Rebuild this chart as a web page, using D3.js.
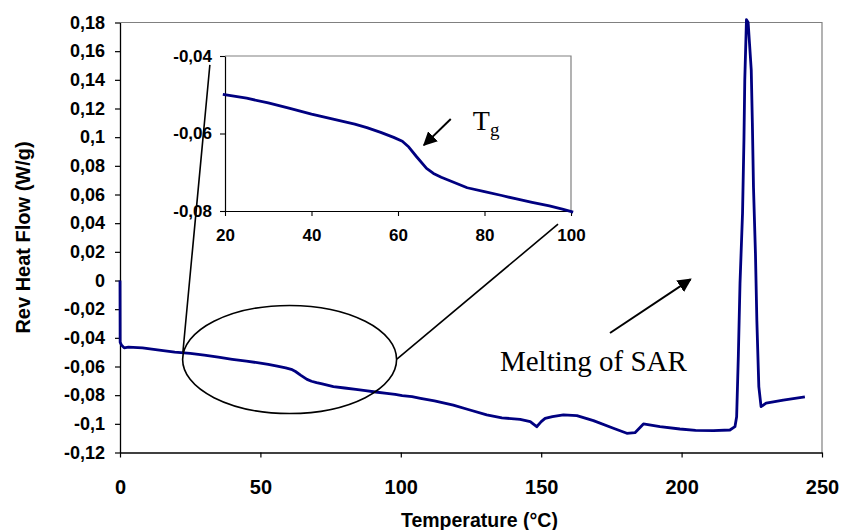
<!DOCTYPE html>
<html><head><meta charset="utf-8">
<script src="https://cdn.jsdelivr.net/npm/d3@7"></script>
<style>body{margin:0;background:#fff}svg{display:block}</style>
</head><body>
<svg id="c" width="841" height="530"></svg>
<script>
// ---- data ----
const temps = [0,0.05,0.5,1.5,3,8,14,19.5,25,30,35,40,45,50,52.8,56,59,61,62.5,64.3,66.6,68.2,70,72,76,80,84,87.4,91,95,98,100.5,104,107,112,118.7,124,130.6,136,142.5,146.1,148.4,150,151.4,154,157.9,162.7,168.6,175.7,180.5,183.4,186.4,188,192.3,199.4,205,211.3,217.2,219,219.6,220.2,220.8,221.7,222.2,222.5,223.1,223.7,224.2,224.8,225.2,225.6,226.3,226.8,227.5,228.3,230.1,236.2,243.9];
const heatFlow = [0,-0.043,-0.045,-0.047,-0.0465,-0.047,-0.0485,-0.0499,-0.0509,-0.0521,-0.0535,-0.055,-0.0563,-0.0576,-0.0585,-0.0597,-0.061,-0.062,-0.0635,-0.066,-0.069,-0.0703,-0.0713,-0.0722,-0.074,-0.075,-0.076,-0.0769,-0.0778,-0.0787,-0.0795,-0.0803,-0.081,-0.0822,-0.084,-0.0869,-0.09,-0.0938,-0.0958,-0.0969,-0.0985,-0.102,-0.0985,-0.0962,-0.095,-0.0938,-0.0943,-0.0978,-0.1031,-0.1066,-0.1062,-0.1001,-0.1005,-0.102,-0.1036,-0.1045,-0.1048,-0.1043,-0.102,-0.095,-0.053,-0.002,0.047,0.098,0.14,0.182,0.18,0.165,0.147,0.11,0.065,0.019,-0.028,-0.074,-0.088,-0.0856,-0.0834,-0.0812];
const xTicks = [0,50,100,150,200,250];
const yTicks = [-0.12,-0.1,-0.08,-0.06,-0.04,-0.02,0,0.02,0.04,0.06,0.08,0.1,0.12,0.14,0.16,0.18];
const insetXTicks = [20,40,60,80,100];
const insetYTicks = [-0.08,-0.06,-0.04];
const xTitle = "Temperature (°C)";
const yTitle = "Rev Heat Flow (W/g)";
const meltLabel = "Melting of SAR";

const fmt = v => String(Math.round(v*100)/100).replace(".", ",");
const svg = d3.select("#c");
const navy = "#000080";
const sans = "Arial, 'Liberation Sans', sans-serif";

// ---- main chart ----
const x = d3.scaleLinear().domain([0,250]).range([120,822]);
const y = d3.scaleLinear().domain([-0.12,0.18]).range([452.5,22.5]);

svg.append("path").attr("d",`M${x(0)},${y(0.18)}H${x(250)}V${y(-0.12)}`)
  .attr("fill","none").attr("stroke","#808080").attr("stroke-width",1.2);

const gx = svg.append("g").attr("transform",`translate(0,${y(-0.12)})`)
  .call(d3.axisBottom(x).tickValues(xTicks).tickFormat(d=>d).tickSize(5).tickSizeOuter(0).tickPadding(22));
const gy = svg.append("g").attr("transform",`translate(${x(0)},0)`)
  .call(d3.axisLeft(y).tickValues(yTicks).tickFormat(fmt).tickSize(5).tickSizeOuter(0).tickPadding(10));
[gx,gy].forEach(g=>{
  g.select(".domain").attr("stroke","#000").attr("stroke-width",1.3);
  g.selectAll(".tick line").attr("stroke","#000").attr("stroke-width",1.2);
  g.selectAll("text").attr("fill","#000").attr("font-family",sans).attr("font-weight","bold");
});
gx.selectAll("text").attr("font-size",20);
gy.selectAll("text").attr("font-size",18);

svg.append("text").attr("x",x(128)).attr("y",527).attr("text-anchor","middle")
  .attr("font-family",sans).attr("font-weight","bold").attr("font-size",19.5)
  .text(xTitle);
svg.append("text").attr("transform",`translate(30,${y(0.03)}) rotate(-90)`).attr("text-anchor","middle")
  .attr("font-family",sans).attr("font-weight","bold").attr("font-size",20)
  .text(yTitle);

const pts = temps.map((t,i)=>[t,heatFlow[i]]);
svg.append("path").datum(pts)
  .attr("d", d3.line().x(d=>x(d[0])).y(d=>y(d[1])))
  .attr("fill","none").attr("stroke",navy).attr("stroke-width",2.8).attr("stroke-linejoin","round");

// ---- inset ----
const ix = d3.scaleLinear().domain([20,100]).range([225,571]);
const iy = d3.scaleLinear().domain([-0.08,-0.04]).range([211,56]);
svg.append("path").attr("d",`M${ix(20)},${iy(-0.04)}H${ix(100)}V${iy(-0.08)}`)
  .attr("fill","none").attr("stroke","#808080").attr("stroke-width",1.2);
const igx = svg.append("g").attr("transform",`translate(0,${iy(-0.08)})`)
  .call(d3.axisBottom(ix).tickValues(insetXTicks).tickFormat(d=>d).tickSize(5).tickSizeOuter(0).tickPadding(13));
const igy = svg.append("g").attr("transform",`translate(${ix(20)},0)`)
  .call(d3.axisLeft(iy).tickValues(insetYTicks).tickFormat(fmt).tickSize(5).tickSizeOuter(0).tickPadding(8));
[igx,igy].forEach(g=>{
  g.select(".domain").attr("stroke","#000").attr("stroke-width",1.2);
  g.selectAll(".tick line").attr("stroke","#000").attr("stroke-width",1.1);
  g.selectAll("text").attr("fill","#000").attr("font-family",sans).attr("font-weight","bold").attr("font-size",17);
});
const ipts = pts.filter(d=>d[0]>=19.5 && d[0]<=100.5);
svg.append("path").datum(ipts)
  .attr("d", d3.line().x(d=>ix(d[0])).y(d=>iy(d[1])))
  .attr("fill","none").attr("stroke",navy).attr("stroke-width",2.8).attr("stroke-linejoin","round");

// ---- annotations ----
const defs = svg.append("defs");
defs.append("marker").attr("id","ah").attr("viewBox","0 0 10 10").attr("refX",9).attr("refY",5)
  .attr("markerWidth",7).attr("markerHeight",7).attr("markerUnits","strokeWidth").attr("orient","auto")
  .append("path").attr("d","M0,0L10,5L0,10Z").attr("fill","#000");

svg.append("ellipse").attr("cx",x(60.4)).attr("cy",y(-0.0551))
  .attr("rx",x(38.1)-x(0)).attr("ry",y(0)-y(0.0377))
  .attr("fill","none").attr("stroke","#000").attr("stroke-width",1.6);
svg.append("line").attr("x1",x(22.4)).attr("y1",y(-0.0499)).attr("x2",ix(16.5)).attr("y2",iy(-0.0423))
  .attr("stroke","#000").attr("stroke-width",1.6);
svg.append("line").attr("x1",x(98.6)).attr("y1",y(-0.0548)).attr("x2",ix(97.0)).attr("y2",iy(-0.0834))
  .attr("stroke","#000").attr("stroke-width",1.6);

svg.append("line").attr("x1",ix(72.2)).attr("y1",iy(-0.05626)).attr("x2",ix(66.0)).attr("y2",iy(-0.063))
  .attr("stroke","#000").attr("stroke-width",2).attr("marker-end","url(#ah)");
const tg = svg.append("text").attr("x",ix(77.3)).attr("y",iy(-0.0591))
  .attr("font-family","'Times New Roman', 'Liberation Serif', serif").attr("font-size",28);
tg.append("tspan").text("T");
tg.append("tspan").attr("font-size",19).attr("dy",6).text("g");

svg.append("line").attr("x1",x(174.5)).attr("y1",y(-0.0366)).attr("x2",x(203.2)).attr("y2",y(0.00084))
  .attr("stroke","#000").attr("stroke-width",2).attr("marker-end","url(#ah)");
svg.append("text").attr("x",x(135.3)).attr("y",y(-0.0631))
  .attr("font-family","'Times New Roman', 'Liberation Serif', serif").attr("font-size",29)
  .text(meltLabel);
</script>
</body></html>
